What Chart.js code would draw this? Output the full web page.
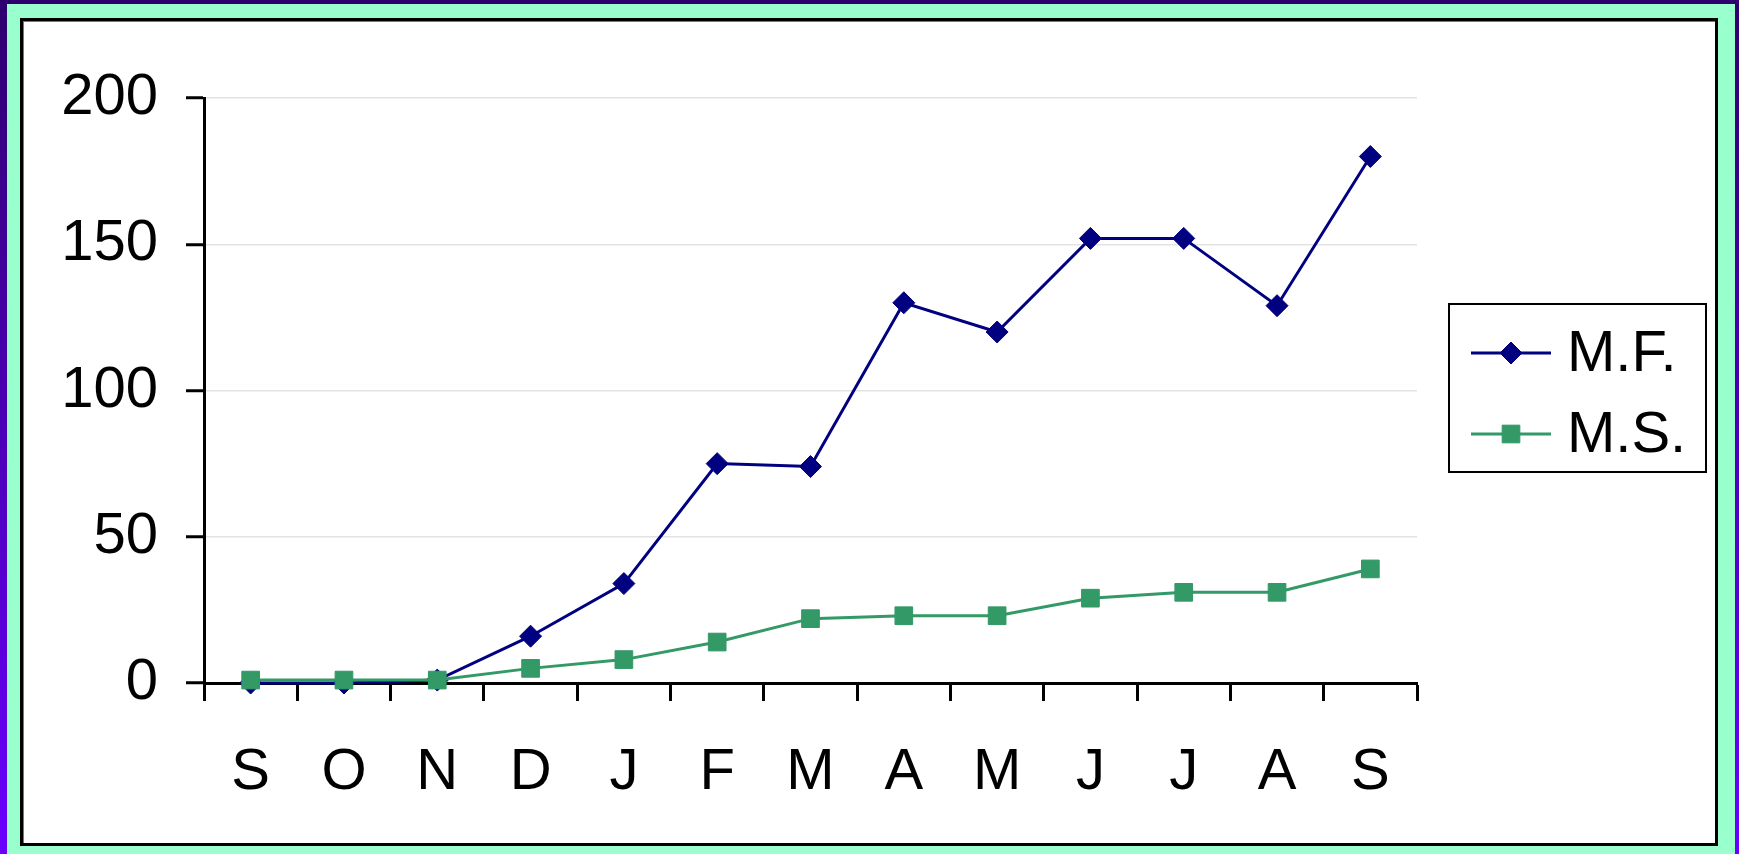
<!DOCTYPE html>
<html>
<head>
<meta charset="utf-8">
<title>M.F. / M.S.</title>
<script src="https://cdn.jsdelivr.net/npm/chart.js@4/dist/chart.umd.min.js"></script>
<style>
  html, body { margin: 0; padding: 0; }
  body {
    width: 1739px; height: 854px; overflow: hidden; position: relative;
    background: linear-gradient(to bottom, #2e006e 0%, #6a00ff 100%);
  }
  #frame {
    position: absolute; left: 7px; top: 4px; right: 4px; bottom: 0;
    background: #99ffcc;
  }
  #panel {
    position: absolute; left: 20px; top: 18px; width: 1692px; height: 822px;
    background: #fff; border: 3px solid #000;
    box-shadow: inset 1px 1px 0 #777;
  }
  #panel canvas { position: absolute; left: 0; top: 0; }
</style>
</head>
<body>
<div id="frame"></div>
<div id="panel"><canvas id="chart" width="1692" height="822"></canvas></div>
<script>
  // meses, de setembro a setembro
  var months = ['S', 'O', 'N', 'D', 'J', 'F', 'M', 'A', 'M', 'J', 'J', 'A', 'S'];
  var mfValues = [0, 0, 1, 16, 34, 75, 74, 130, 120, 152, 152, 129, 180];
  var msValues = [1, 1, 1, 5, 8, 14, 22, 23, 23, 29, 31, 31, 39];
  var seriesNames = ['M.F.', 'M.S.'];
  var yTicks = [0, 50, 100, 150, 200];

  var FONT = "'Liberation Sans', Arial, sans-serif";
  var NAVY = '#000080';
  var GREEN = '#339966';

  // legenda com linha + marcador, numa caixa com borda
  var boxedLegend = {
    id: 'boxedLegend',
    afterDraw: function (chart) {
      var ctx = chart.ctx;
      var area = chart.chartArea;
      var left = area.right + 32, top = 283, w = 257, h = 168;
      ctx.save();
      ctx.lineWidth = 2;
      ctx.strokeStyle = '#000';
      ctx.strokeRect(left, top, w, h);
      ctx.font = '58px ' + FONT;
      ctx.textBaseline = 'middle';
      chart.data.datasets.forEach(function (ds, i) {
        var y = top + 49 + i * 81;
        ctx.strokeStyle = ds.borderColor;
        ctx.lineWidth = ds.borderWidth;
        ctx.beginPath();
        ctx.moveTo(left + 22, y);
        ctx.lineTo(left + 102, y);
        ctx.stroke();
        ctx.fillStyle = ds.pointBackgroundColor;
        ctx.strokeStyle = ds.pointBorderColor;
        ctx.lineWidth = 1;
        Chart.helpers.drawPoint(ctx, { pointStyle: ds.pointStyle, radius: ds.pointRadius, borderWidth: 1 }, left + 62, y);
        ctx.fillStyle = '#000';
        ctx.fillText(ds.label, left + 118, y + 2);
      });
      ctx.restore();
    }
  };

  new Chart(document.getElementById('chart'), {
    type: 'line',
    data: {
      labels: months,
      datasets: [
        {
          label: seriesNames[0], data: mfValues, order: 1,
          borderColor: NAVY, borderWidth: 3,
          pointStyle: 'rectRot', pointRadius: 11,
          pointBackgroundColor: NAVY, pointBorderColor: NAVY, pointBorderWidth: 1,
          tension: 0, clip: false
        },
        {
          label: seriesNames[1], data: msValues, order: 0,
          borderColor: GREEN, borderWidth: 3,
          pointStyle: 'rect', pointRadius: 12.5,
          pointBackgroundColor: GREEN, pointBorderColor: GREEN, pointBorderWidth: 1,
          tension: 0, clip: false
        }
      ]
    },
    options: {
      responsive: false,
      animation: false,
      events: [],
      layout: { padding: { left: 0, top: 77, right: 298, bottom: 0 } },
      plugins: { legend: { display: false }, tooltip: { enabled: false } },
      scales: {
        x: {
          offset: true,
          grid: { display: true, offset: true, drawOnChartArea: false, tickColor: '#000', tickLength: 18, tickWidth: 3 },
          border: { color: '#000', width: 3 },
          ticks: { color: '#000', font: { family: FONT, size: 58 }, padding: 37, maxRotation: 0, autoSkip: false },
          afterFit: function (scale) { scale.height = 160; }
        },
        y: {
          min: 0, max: 200,
          afterBuildTicks: function (scale) {
            scale.ticks = yTicks.map(function (v) { return { value: v }; });
          },
          grid: { color: '#e3e3e3', lineWidth: 1.5, tickColor: '#000', tickLength: 18, tickWidth: 3 },
          border: { color: '#000', width: 3 },
          ticks: { color: '#000', font: { family: FONT, size: 58 }, padding: 28 },
          afterFit: function (scale) { scale.width = 181; }
        }
      }
    },
    plugins: [boxedLegend]
  });
</script>
</body>
</html>
